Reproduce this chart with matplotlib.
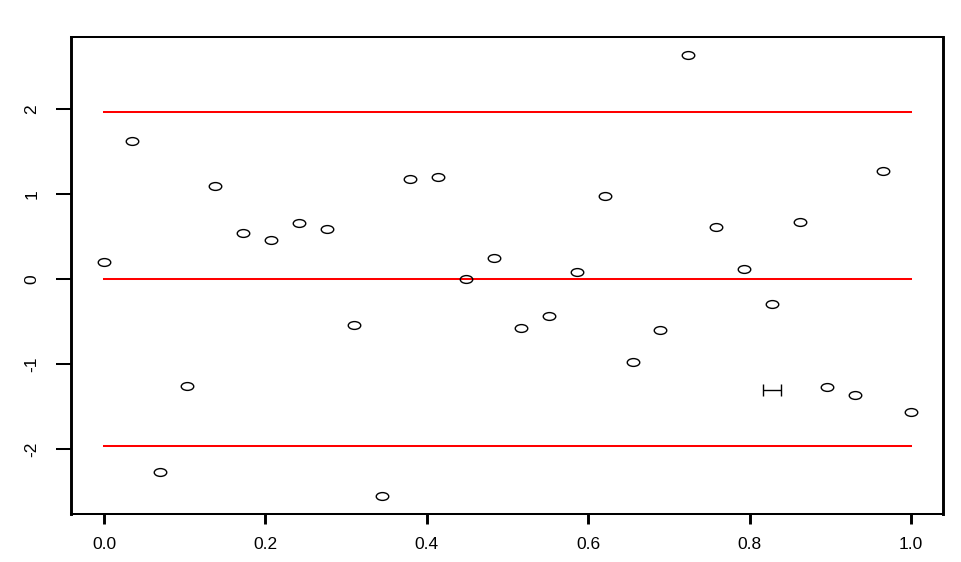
import matplotlib
matplotlib.use('Agg')
import matplotlib.pyplot as plt
from matplotlib.path import Path
from matplotlib.transforms import Affine2D

plt.rcParams['font.family'] = ['Liberation Sans', 'DejaVu Sans']

# residuals, one per equally spaced x
xvals = [i / 29 for i in range(30)]
yvals = [0.20, 1.62, -2.27, -1.26, 1.09, 0.54, 0.46, 0.66, 0.59, -0.54,
         -2.55, 1.18, 1.20, 0.00, 0.25, -0.58, -0.44, 0.08, 0.98, -0.98,
         -0.60, 2.64, 0.61, 0.12, -0.29, 0.67, -1.27, -1.36, 1.27, -1.56]
bands = [1.96, 0.0, -1.96]
# small horizontal bar drawn near (0.828, -1.30)
mark_x, mark_y, mark_w = 0.828, -1.306, 0.0112

xticks = [0.0, 0.2, 0.4, 0.6, 0.8, 1.0]
yticks = [-2, -1, 0, 1, 2]

# the reference is stretched sideways, so circles look like flat ellipses
ellipse = Affine2D().scale(1.6, 1.0).transform_path(Path.unit_circle())

fig = plt.figure(figsize=(9.62, 5.62), dpi=100)
ax = fig.add_axes([0.0738, 0.0854, 0.9064, 0.8488])

for b in bands:
    ax.plot([0, 1], [b, b], color='red', lw=1.45)

ax.plot(xvals, yvals, ls='none', marker=ellipse, mfc='none', mec='black', mew=1.0, ms=9)
ax.errorbar([mark_x], [mark_y], xerr=[mark_w], fmt='none', ecolor='black',
            elinewidth=1, capsize=4.3, capthick=1)

ax.set_xlim(-0.0409, 1.0397)
ax.set_ylim(-2.765, 2.847)
ax.set_xticks(xticks)
ax.set_xticklabels(['%.1f' % t for t in xticks])
ax.set_yticks(yticks)
ax.set_yticklabels([str(t) for t in yticks], rotation=90, va='center')
ax.tick_params(axis='x', length=7.2, width=2.1, labelsize=12.5, pad=9)
ax.tick_params(axis='y', length=10.8, width=1.45, labelsize=12.5, pad=12)
for side in ['left', 'right']:
    ax.spines[side].set_linewidth(2.1)
for side in ['top', 'bottom']:
    ax.spines[side].set_linewidth(1.45)

fig.savefig('out.png', dpi=100)
